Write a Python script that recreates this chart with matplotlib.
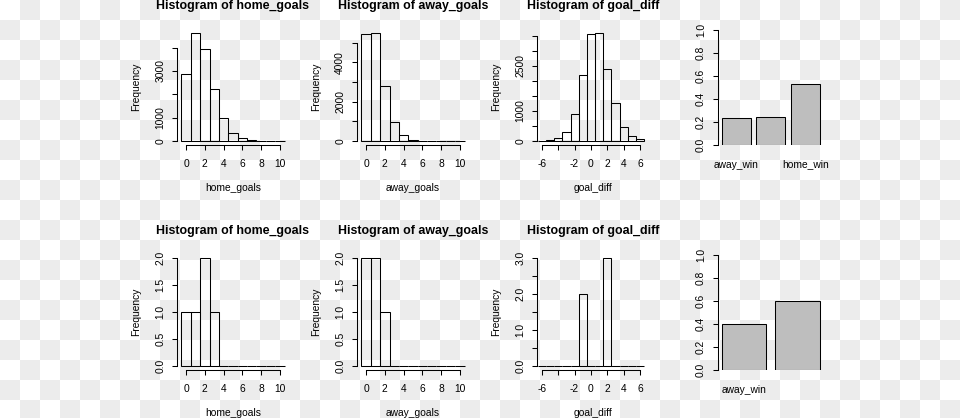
import numpy as np
import matplotlib.pyplot as plt

plt.rcParams['font.family'] = ['Liberation Sans', 'DejaVu Sans']

W, H, DPI = 960, 418, 100

# ---- data ----
goal_bins = list(range(0, 11))
diff_bins = list(range(-6, 7))

# full season (top row)
home_goals_full = [2870, 4610, 3940, 2215, 970, 330, 130, 45, 15, 5, 2]
away_goals_full = [5470, 5480, 2800, 965, 290, 70, 17, 4, 1, 0, 0]
goal_diff_full = [5, 20, 95, 290, 900, 2200, 3567, 3589, 2390, 1267, 467, 178, 56]
result_names_full = ["away_win", "draw", "home_win"]
result_share_full = [0.232, 0.242, 0.526]

# five-match sample (bottom row)
home_goals_small = [1, 1, 2, 1, 0, 0, 0, 0, 0, 0, 0]
away_goals_small = [2, 2, 1, 0, 0, 0, 0, 0, 0, 0, 0]
goal_diff_small = [0, 0, 0, 0, 0, 2, 0, 0, 3, 0, 0, 0, 0]
result_names_small = ["away_win", "home_win"]
result_share_small = [0.4, 0.6]

# ticks (R drops labels that would overlap, so some are blank)
goal_xticks = [0, 2, 4, 6, 8, 10]
goal_xlabels = ["0", "2", "4", "6", "8", "10"]
diff_xticks = [-6, -4, -2, 0, 2, 4, 6]
diff_xlabels = ["-6", "", "-2", "0", "2", "4", "6"]

home_yticks_full = [0, 1000, 2000, 3000, 4000]
home_ylabels_full = ["0", "1000", "", "3000", ""]
away_yticks_full = [0, 1000, 2000, 3000, 4000, 5000]
away_ylabels_full = ["0", "", "2000", "", "4000", ""]
diff_yticks_full = [0, 500, 1000, 1500, 2000, 2500, 3000, 3500]
diff_ylabels_full = ["0", "", "1000", "", "", "2500", "", ""]

goal_yticks_small = [0, 0.5, 1.0, 1.5, 2.0]
goal_ylabels_small = ["0.0", "0.5", "1.0", "1.5", "2.0"]
diff_yticks_small = [0, 0.5, 1.0, 1.5, 2.0, 2.5, 3.0]
diff_ylabels_small = ["0.0", "", "1.0", "", "2.0", "", "3.0"]

share_yticks = [0, 0.2, 0.4, 0.6, 0.8, 1.0]
share_ylabels = ["0.0", "0.2", "0.4", "0.6", "0.8", "1.0"]
show_full = [True, False, True]
show_small = [True, False]

FS = 7.4
LW = 0.75

fig = plt.figure(figsize=(W / DPI, H / DPI), dpi=DPI)

# transparent-background checkerboard
bg = fig.add_axes([0, 0, 1, 1], zorder=-10)
nr, nc = 21, 48
board = (np.add.outer(np.arange(nr), np.arange(nc)) % 2).astype(float)
rgb = np.where(board[..., None] == 1, 236 / 255, 1.0) * np.ones(3)
bg.imshow(rgb, extent=(0, nc * 20, nr * 20, 0), interpolation='nearest', aspect='auto')
bg.set_xlim(0, W)
bg.set_ylim(H, 0)
bg.axis('off')

ROWS = [(29.0, 145.3), (254.0, 370.3)]
COLS = [177.2, 357.2, 537.4, 717.8]
PW = 111.6


def place(col, row):
    x0 = COLS[col]
    y0, y1 = ROWS[row]
    ax = fig.add_axes([x0 / W, 1 - y1 / H, PW / W, (y1 - y0) / H])
    ax.patch.set_alpha(0)
    for s in ["top", "right"]:
        ax.spines[s].set_visible(False)
    for s in ["left", "bottom"]:
        ax.spines[s].set_linewidth(LW)
    ax.tick_params(length=5 * 0.72, width=LW, labelsize=FS)
    return ax


def style_y(ax, yticks, ylabels):
    ax.set_yticks(yticks)
    ax.set_yticklabels(ylabels)
    ax.spines["left"].set_bounds(yticks[0], yticks[-1])
    ax.tick_params(axis='y', pad=5.0)
    plt.setp(ax.get_yticklabels(), rotation=90, va='center', ha='right')


def hist_panel(col, row, bins, counts, var, xlim, xticks, xlabels, yticks, ylabels):
    ax = place(col, row)
    ax.bar(bins, counts, width=1, fill=False, edgecolor='black', linewidth=LW)
    m = max(counts)
    ax.set_ylim(-0.04 * m, 1.04 * m)
    ax.set_xlim(*xlim)
    ax.set_xticks(xticks)
    ax.set_xticklabels(xlabels)
    ax.spines["bottom"].set_bounds(xticks[0], xticks[-1])
    ax.tick_params(axis='x', pad=6.3)
    style_y(ax, yticks, ylabels)
    ax.annotate("Histogram of " + var, xy=(0.5, 1), xycoords='axes fraction',
                xytext=(0, 23.3), textcoords='offset pixels', ha='center', va='center',
                fontsize=8.9, fontweight='bold')
    ax.annotate(var, xy=(0.5, 0), xycoords='axes fraction', xytext=(0, -43),
                textcoords='offset pixels', ha='center', va='center', fontsize=FS)
    ax.annotate("Frequency", xy=(0, 0.5), xycoords='axes fraction', xytext=(-41.3, 0),
                textcoords='offset pixels', ha='center', va='center', rotation=90, fontsize=FS)
    return ax


def share_panel(col, row, names, shares, shown, xlim):
    ax = place(col, row)
    pos = [0.7 + 1.2 * i for i in range(len(shares))]
    ax.bar(pos, shares, width=1, color='#bebebe', edgecolor='black', linewidth=LW)
    ax.set_xlim(*xlim)
    ax.set_ylim(0, 1.006)
    ax.spines["bottom"].set_visible(False)
    ax.set_xticks(pos)
    ax.set_xticklabels([n if s else "" for n, s in zip(names, shown)])
    ax.tick_params(axis='x', length=0, pad=10.3)
    style_y(ax, share_yticks, share_ylabels)
    return ax


GX = (-0.94, 10.94)
DX = (-6.54, 7.08)

hist_panel(0, 0, goal_bins, home_goals_full, "home_goals", GX, goal_xticks, goal_xlabels,
           home_yticks_full, home_ylabels_full)
hist_panel(1, 0, goal_bins, away_goals_full, "away_goals", GX, goal_xticks, goal_xlabels,
           away_yticks_full, away_ylabels_full)
hist_panel(2, 0, diff_bins, goal_diff_full, "goal_diff", DX, diff_xticks, diff_xlabels,
           diff_yticks_full, diff_ylabels_full)
share_panel(3, 0, result_names_full, result_share_full, show_full, (0.0655, 3.914))

hist_panel(0, 1, goal_bins, home_goals_small, "home_goals", GX, goal_xticks, goal_xlabels,
           goal_yticks_small, goal_ylabels_small)
hist_panel(1, 1, goal_bins, away_goals_small, "away_goals", GX, goal_xticks, goal_xlabels,
           goal_yticks_small, goal_ylabels_small)
hist_panel(2, 1, diff_bins, goal_diff_small, "goal_diff", DX, diff_xticks, diff_xlabels,
           diff_yticks_small, diff_ylabels_small)
share_panel(3, 1, result_names_small, result_share_small, show_small, (0.113, 2.604))

fig.savefig("out.png", dpi=DPI)
